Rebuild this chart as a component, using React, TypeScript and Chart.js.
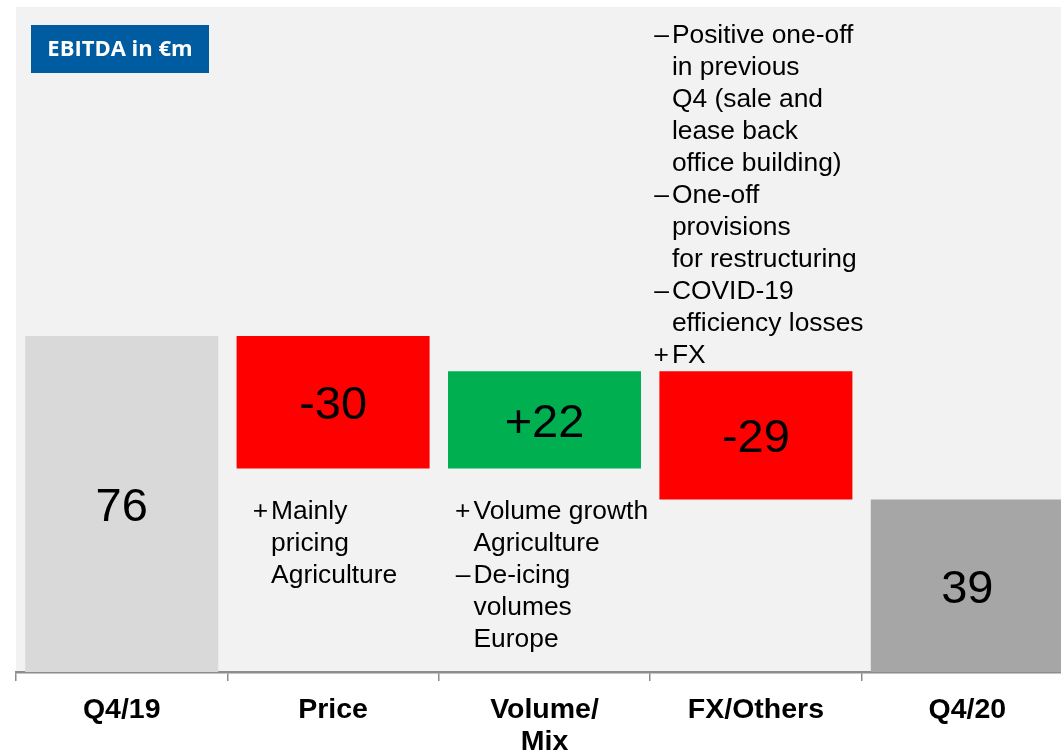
import React, { useEffect, useRef } from "react";
import { Chart, registerables } from "chart.js";
Chart.register(...registerables);

const categories = [["Q4/19"], ["Price"], ["Volume/", "Mix"], ["FX/Others"], ["Q4/20"]];
const startValue = 76;
const changes = [-30, 22, -29];
const endValue = 39;
const valueLabels = ["76", "-30", "+22", "-29", "39"];
const barColors = ["#d9d9d9", "#ff0000", "#00b050", "#ff0000", "#a6a6a6"];
const titleText = "EBITDA in €m";

const priceNotes = [{ marker: "+", lines: ["Mainly", "pricing", "Agriculture"] }];
const volumeNotes = [
  { marker: "+", lines: ["Volume growth", "Agriculture"] },
  { marker: "–", lines: ["De-icing", "volumes", "Europe"] },
];
const fxNotes = [
  { marker: "–", lines: ["Positive one-off", "in previous", "Q4 (sale and", "lease back", "office building)"] },
  { marker: "–", lines: ["One-off", "provisions", "for restructuring"] },
  { marker: "–", lines: ["COVID-19", "efficiency losses"] },
  { marker: "+", lines: ["FX"] },
];

function buildRanges(): [number, number][] {
  const out: [number, number][] = [[0, startValue]];
  let cum = startValue;
  for (const c of changes) {
    const next = cum + c;
    out.push([Math.min(cum, next), Math.max(cum, next)]);
    cum = next;
  }
  out.push([0, endValue]);
  return out;
}

const CANVAS_W = 1100;
const CANVAS_H = 753;
const FONT = "'Liberation Sans', Arial, sans-serif";

export default function App() {
  const ref = useRef<HTMLCanvasElement | null>(null);
  useEffect(() => {
    const canvas = ref.current!;
    const notesPlugin = {
      id: "notes",
      beforeDraw(chart: any) {
        const { ctx, chartArea } = chart;
        ctx.save();
        ctx.fillStyle = "#f2f2f2";
        ctx.fillRect(chartArea.left, chartArea.top, chartArea.right - chartArea.left, chartArea.bottom - chartArea.top);
        ctx.restore();
      },
      afterDatasetsDraw(chart: any) {
        const { ctx } = chart;
        const meta = chart.getDatasetMeta(0);
        ctx.save();
        // value labels
        ctx.fillStyle = "#000";
        ctx.font = `47px ${FONT}`;
        ctx.textAlign = "center";
        ctx.textBaseline = "middle";
        meta.data.forEach((bar: any, i: number) => {
          const p = bar.getProps(["x", "y", "base"], true);
          ctx.fillText(valueLabels[i], p.x, (p.y + p.base) / 2 + 4);
        });
        // notes
        const lineH = 32;
        ctx.font = `26.4px ${FONT}`;
        const drawNotes = (notes: any[], textX: number, firstY: number) => {
          let y = firstY;
          for (const n of notes) {
            n.lines.forEach((l: string, j: number) => {
              if (j === 0) {
                ctx.textAlign = "right";
                ctx.fillText(n.marker, textX - 3, y);
              }
              ctx.textAlign = "left";
              ctx.fillText(l, textX, y);
              y += lineH;
            });
          }
        };
        const b1 = meta.data[1].getProps(["x", "y", "base"], true);
        const b2 = meta.data[2].getProps(["x", "y", "base"], true);
        const b3 = meta.data[3].getProps(["x", "y", "base"], true);
        drawNotes(priceNotes, b1.x - 62, Math.max(b1.y, b1.base) + 43);
        drawNotes(volumeNotes, b2.x - 71, Math.max(b2.y, b2.base) + 43);
        const fxCount = fxNotes.reduce((s, n) => s + n.lines.length, 0);
        drawNotes(fxNotes, b3.x - 84, Math.min(b3.y, b3.base) - 16 - (fxCount - 1) * lineH);
        // title box
        ctx.fillStyle = "#005ca0";
        ctx.fillRect(31, 25, 178, 48);
        ctx.fillStyle = "#ffffff";
        ctx.font = `bold 22px 'Open Sans', sans-serif`;
        ctx.textAlign = "center";
        ctx.fillText(titleText, 120, 50);
        ctx.restore();
      },
    };
    const chart = new Chart(canvas, {
      type: "bar",
      data: {
        labels: categories as any,
        datasets: [
          {
            data: buildRanges() as any,
            backgroundColor: barColors,
            borderWidth: 0,
            barPercentage: 0.913,
            categoryPercentage: 1,
          },
        ],
      },
      options: {
        animation: false,
        responsive: false,
        layout: { padding: { left: 16, top: 7, right: CANVAS_W - 1073, bottom: 0 } },
        plugins: { legend: { display: false }, tooltip: { enabled: false } },
        scales: {
          x: {
            afterFit(scale: any) {
              scale.height = 81;
            },
            grid: {
              display: true,
              offset: true,
              drawOnChartArea: false,
              drawTicks: true,
              tickLength: 9,
              color: "#8c8c8c",
              lineWidth: 1.5,
            },
            border: { display: true, color: "#8c8c8c", width: 2.5 },
            ticks: {
              color: "#000",
              padding: 13,
              maxRotation: 0,
              autoSkip: false,
              font: { family: FONT, size: 28.5, weight: "bold", lineHeight: 32 / 28.5 },
            },
          },
          y: { display: false, min: 0, max: 150.4 },
        },
      },
      plugins: [notesPlugin],
    } as any);
    return () => chart.destroy();
  }, []);
  return (
    <div style={{ position: "absolute", left: 0, top: 0, width: 1061, height: 753, overflow: "hidden", background: "#fff" }}>
      <canvas ref={ref} width={CANVAS_W} height={CANVAS_H} style={{ display: "block", width: CANVAS_W, height: CANVAS_H }} />
    </div>
  );
}
